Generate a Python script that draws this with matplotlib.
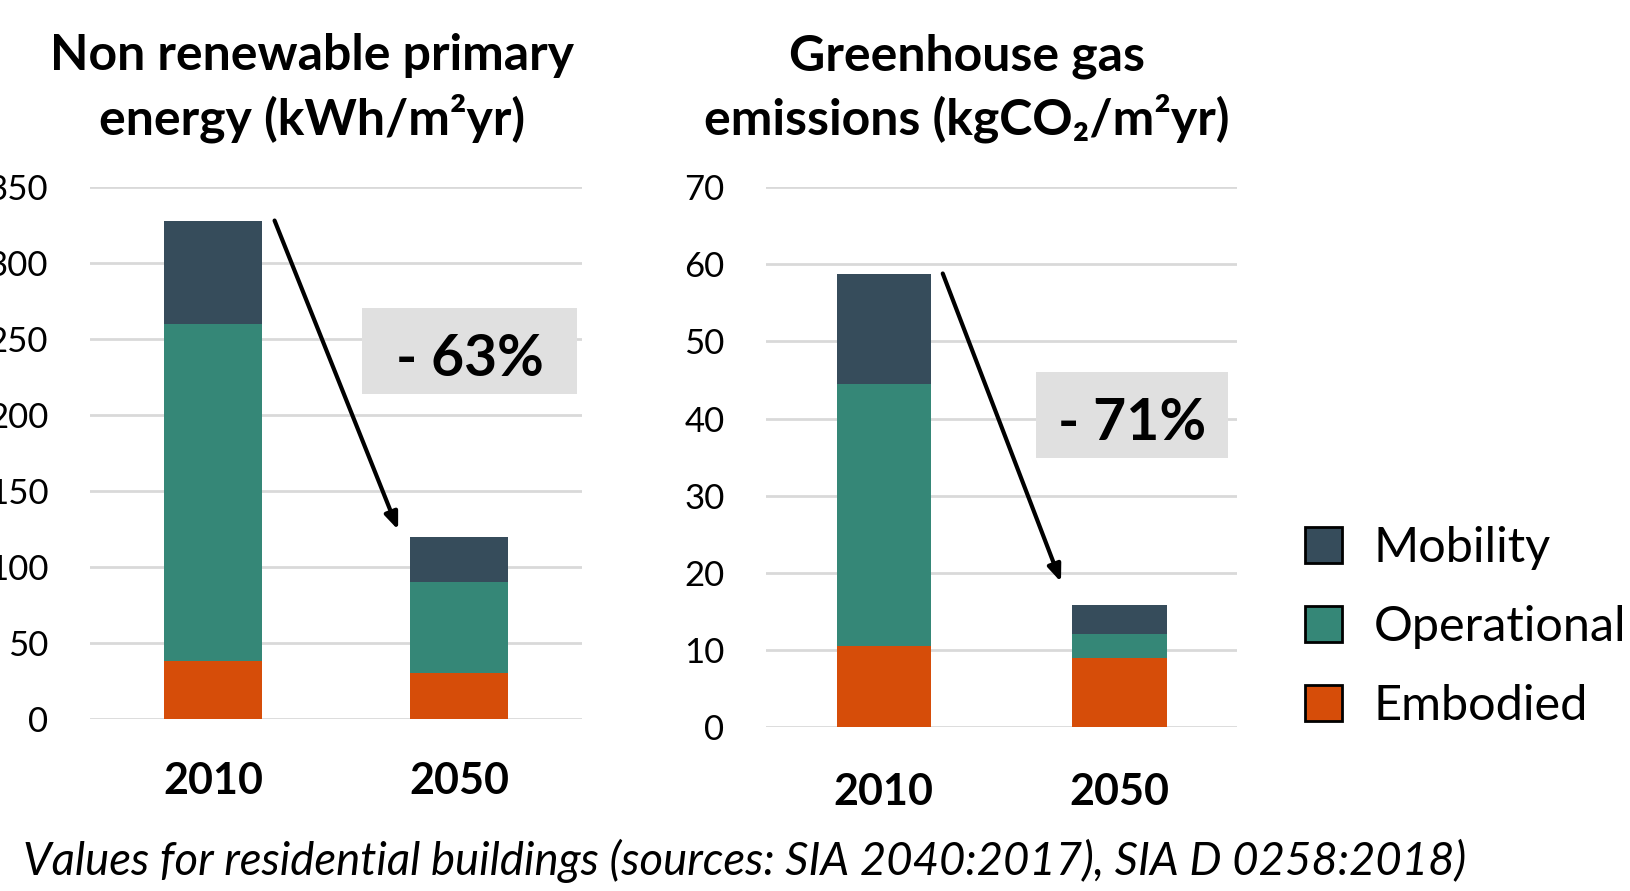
import matplotlib
matplotlib.use("Agg")
import matplotlib.pyplot as plt
from matplotlib.patches import Patch, Rectangle

plt.rcParams['font.family'] = ['Lato', 'DejaVu Sans']

years = ["2010", "2050"]
series = ["Embodied", "Operational", "Mobility"]
colors = {"Mobility": "#364C5B", "Operational": "#358777", "Embodied": "#D64D09"}

energy_embodied = [38, 30]
energy_operational = [222, 60]
energy_mobility = [68, 30]
energy_ticks = [0, 50, 100, 150, 200, 250, 300, 350]

ghg_embodied = [10.5, 9]
ghg_operational = [34, 3]
ghg_mobility = [14.3, 3.8]
ghg_ticks = [0, 10, 20, 30, 40, 50, 60, 70]

energy_label = "- 63%"
ghg_label = "- 71%"

fig = plt.figure(figsize=(16.3, 8.91), dpi=100)
ax1 = fig.add_axes([0.0552, 0.193, 0.302, 0.597])
ax2 = fig.add_axes([0.470, 0.184, 0.289, 0.606])


def draw(ax, emb, ope, mob, ticks, label, box, tip_off, xpad):
    x = list(range(len(years)))
    ax.bar(x, emb, width=0.40, color=colors["Embodied"], zorder=3)
    ax.bar(x, ope, width=0.40, bottom=emb, color=colors["Operational"], zorder=3)
    bottom3 = [a + b for a, b in zip(emb, ope)]
    ax.bar(x, mob, width=0.40, bottom=bottom3, color=colors["Mobility"], zorder=3)
    totals = [a + b for a, b in zip(bottom3, mob)]
    ax.set_xlim(-0.5, 1.5)
    ax.set_ylim(0, ticks[-1])
    ax.set_yticks(ticks)
    ax.set_yticklabels([str(t) for t in ticks])
    ax.set_xticks(x)
    ax.set_xticklabels(years, fontweight="bold", fontsize=31)
    ax.tick_params(axis="y", length=0, pad=30, labelsize=25)
    ax.tick_params(axis="x", length=0, pad=xpad)
    for s in ax.spines.values():
        s.set_visible(False)
    ax.grid(axis="y", color="#D9D9D9", linewidth=2, zorder=0)
    ax.set_axisbelow(True)
    ax.annotate("", xy=(0.752, totals[1] + tip_off), xytext=(0.25, totals[0]),
                arrowprops=dict(arrowstyle="-|>,head_length=1.0,head_width=0.4",
                                color="black", lw=3, shrinkA=0, shrinkB=0),
                zorder=5)
    x0, x1, y0, y1 = box
    ax.add_patch(Rectangle((x0, y0), x1 - x0, y1 - y0, facecolor="#E0E0E0",
                           edgecolor="none", zorder=4))
    ax.annotate(label, xy=((x0 + x1) / 2, (y0 + y1) / 2), xytext=(0, -6),
                textcoords="offset points", ha="center", va="center",
                fontsize=41, fontweight="bold", zorder=6)


draw(ax1, energy_embodied, energy_operational, energy_mobility, energy_ticks,
     energy_label, (0.606, 1.48, 213.8, 270.4), 4.5, 30)
draw(ax2, ghg_embodied, ghg_operational, ghg_mobility, ghg_ticks,
     ghg_label, (0.647, 1.462, 34.9, 46.0), 3.0, 32)

tfs = 36
fig.text(312 / 1630, 1 - 56 / 891, "Non renewable primary", ha="center", va="center",
         fontsize=tfs, fontweight="bold")
fig.text(312 / 1630, 1 - 118 / 891, "energy (kWh/m²yr)", ha="center", va="center",
         fontsize=tfs, fontweight="bold")
fig.text(967 / 1630, 1 - 56 / 891, "Greenhouse gas", ha="center", va="center",
         fontsize=tfs, fontweight="bold")
fig.text(967 / 1630, 1 - 118 / 891, "emissions (kgCO₂/m²yr)", ha="center", va="center",
         fontsize=tfs, fontweight="bold")

handles = [Patch(facecolor=colors[s], edgecolor="black", linewidth=2, label=s)
           for s in ["Mobility", "Operational", "Embodied"]]
fig.legend(handles=handles, loc="center left", bbox_to_anchor=(1305 / 1630, 1 - 627 / 891),
           frameon=False, fontsize=35, handlelength=0.77, handleheight=0.77,
           handletextpad=0.64, labelspacing=0.72, borderaxespad=0, borderpad=0)

fig.text(23 / 1630, 1 - 861 / 891,
         "Values for residential buildings (sources: SIA 2040:2017), SIA D 0258:2018)",
         ha="left", va="center", fontsize=32.8, fontstyle="italic")

fig.savefig("out.png", dpi=100)
